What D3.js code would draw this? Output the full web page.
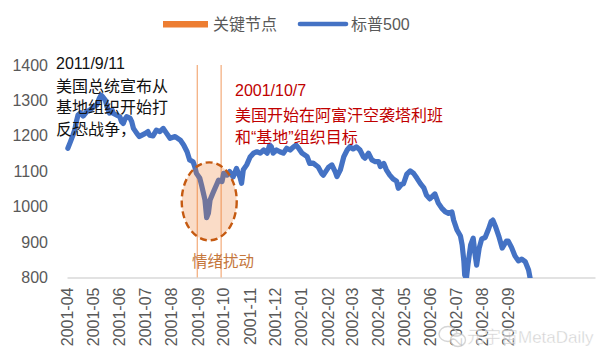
<!DOCTYPE html>
<html><head><meta charset="utf-8">
<script src="https://cdn.jsdelivr.net/npm/d3@7/dist/d3.min.js"></script>
<style>
html,body{margin:0;padding:0;background:#fff;}
svg{display:block;font-family:"Liberation Sans","Noto Sans CJK SC",sans-serif;}
</style></head>
<body>
<svg id="chart" width="600" height="364"></svg>
<script>
// ---- data ----
const dates = ["2001-04-02","2001-04-05","2001-04-08","2001-04-10","2001-04-12","2001-04-14","2001-04-17","2001-04-20","2001-04-24","2001-04-28",
"2001-05-02","2001-05-06","2001-05-09","2001-05-11","2001-05-13","2001-05-16","2001-05-18","2001-05-21","2001-05-24","2001-05-25","2001-05-29",
"2001-06-02","2001-06-04","2001-06-06","2001-06-08","2001-06-10","2001-06-14","2001-06-16","2001-06-18","2001-06-22","2001-06-25","2001-06-28",
"2001-07-02","2001-07-05","2001-07-07","2001-07-11","2001-07-15","2001-07-19","2001-07-23","2001-07-27","2001-07-31",
"2001-08-06","2001-08-12","2001-08-16","2001-08-20","2001-08-23","2001-08-27","2001-08-29","2001-08-31",
"2001-09-04","2001-09-06","2001-09-10","2001-09-12","2001-09-14","2001-09-16","2001-09-20","2001-09-24","2001-09-26","2001-09-30",
"2001-10-02","2001-10-06","2001-10-09","2001-10-13","2001-10-17","2001-10-21","2001-10-23","2001-10-25","2001-10-29",
"2001-11-02","2001-11-06","2001-11-10","2001-11-14","2001-11-18","2001-11-22","2001-11-25","2001-11-27","2001-11-29",
"2001-12-03","2001-12-07","2001-12-11","2001-12-15","2001-12-19","2001-12-23","2001-12-26","2001-12-29",
"2002-01-02","2002-01-08","2002-01-11","2002-01-15","2002-01-21","2002-01-25","2002-01-27",
"2002-02-02","2002-02-06","2002-02-10","2002-02-12","2002-02-16","2002-02-20","2002-02-24","2002-02-27",
"2002-03-03","2002-03-07","2002-03-11","2002-03-15","2002-03-17","2002-03-21","2002-03-25","2002-03-29",
"2002-04-02","2002-04-04","2002-04-08","2002-04-11","2002-04-15","2002-04-19","2002-04-23","2002-04-25","2002-04-29",
"2002-05-01","2002-05-05","2002-05-09","2002-05-13","2002-05-17","2002-05-21","2002-05-25","2002-05-28",
"2002-06-01","2002-06-07","2002-06-11","2002-06-15","2002-06-19","2002-06-23","2002-06-27","2002-06-29",
"2002-07-03","2002-07-07","2002-07-09","2002-07-11","2002-07-12","2002-07-14","2002-07-16","2002-07-19","2002-07-22","2002-07-24","2002-07-26","2002-07-29",
"2002-08-01","2002-08-05","2002-08-09","2002-08-12","2002-08-14","2002-08-17","2002-08-21","2002-08-25","2002-08-30",
"2002-09-01","2002-09-05","2002-09-09","2002-09-13","2002-09-17","2002-09-21","2002-09-25","2002-09-27"];
const sp500 = [1165,1183,1202,1216,1240,1259,1265,1256,1268,1273,
1282,1287,1306,1315,1310,1301,1282,1264,1273,1264,1259,
1254,1240,1235,1247,1254,1250,1240,1221,1207,1198,1202,
1207,1212,1202,1200,1216,1212,1221,1207,1193,
1198,1188,1174,1155,1132,1127,1113,1094,
1080,1061,1019,969,981,1019,1042,1064,1075,1071,
1094,1089,1099,1084,1108,1084,1066,1104,1118,
1140,1151,1155,1151,1160,1151,1174,1169,1151,
1160,1155,1151,1165,1160,1169,1174,1165,
1151,1141,1122,1123,1112,1094,1089,
1111,1118,1098,1085,1104,1141,1160,1169,
1163,1169,1160,1141,1137,1151,1132,1127,
1127,1113,1122,1104,1089,1078,1072,1052,1064,
1064,1092,1101,1094,1080,1065,1053,1033,
1022,1036,1010,996,986,981,985,962,
934,917,892,847,807,797,840,892,911,868,835,883,
909,913,937,958,962,945,917,883,903,
903,885,861,847,852,845,821,796];
const keyNodeDates = ["2001-09-01","2001-09-29"];
const keyNodeValues = [1400,1400];
const tickLabels = ["2001-04","2001-05","2001-06","2001-07","2001-08","2001-09","2001-10","2001-11","2001-12",
"2002-01","2002-02","2002-03","2002-04","2002-05","2002-06","2002-07","2002-08","2002-09"];
const yTicks = [800,900,1000,1100,1200,1300,1400];
const seriesNames = ["关键节点","标普500"];
const note1 = ["2011/9/11","美国总统宣布从","基地组织开始打","反恐战争，"];
const note2 = ["2001/10/7","美国开始在阿富汗空袭塔利班","和“基地”组织目标"];
const emotionLabel = "情绪扰动";
const watermark = "元宇宙MetaDaily";

// ---- chart ----
const parse = d3.timeParse("%Y-%m-%d");
const parseM = d3.timeParse("%Y-%m");
const svg = d3.select("#chart");
const pL = 67, pR = 595, pT = 65, pB = 277.5;

const x = d3.scaleTime().domain([parse("2001-04-01"), parse("2002-12-12")]).range([pL, pR]);
const y = d3.scaleLinear().domain([800, 1400]).range([pB, pT]);

const data = dates.map((d,i)=>({date:parse(d), value:sp500[i]}));

svg.append("defs").append("clipPath").attr("id","plot")
  .append("rect").attr("x",pL-10).attr("y",pT-10).attr("width",pR-pL+10).attr("height",pB-pT+10.5);

// y axis
const yAxis = svg.append("g").attr("transform",`translate(${pL},0)`)
  .call(d3.axisLeft(y).tickValues(yTicks).tickSize(0).tickPadding(19).tickFormat(d3.format("d")));
yAxis.select(".domain").remove();
yAxis.selectAll("text").attr("font-size",16).attr("fill","#595959")
  .attr("font-family",'"Liberation Sans",sans-serif');

// x axis
const xAxis = svg.append("g").attr("transform",`translate(0,${pB})`)
  .call(d3.axisBottom(x).tickValues(tickLabels.map(parseM)).tickSize(0).tickFormat(d3.timeFormat("%Y-%m")));
xAxis.select(".domain").attr("stroke","#d9d9d9").attr("stroke-width",1.3);
xAxis.selectAll("text").attr("font-size",16).attr("fill","#595959")
  .attr("font-family",'"Liberation Sans",sans-serif')
  .attr("transform","rotate(-90)").attr("text-anchor","end")
  .attr("x",-10).attr("y",0).attr("dy","0.36em");

// key node bars (thin)
svg.append("g").selectAll("line").data(keyNodeDates.map((d,i)=>({date:parse(d), value:keyNodeValues[i]})))
  .join("line")
  .attr("x1",d=>x(d.date)).attr("x2",d=>x(d.date))
  .attr("y1",y(800)).attr("y2",d=>y(d.value))
  .attr("stroke","#F4B183").attr("stroke-width",1.3);

// S&P line
svg.append("path").datum(data)
  .attr("clip-path","url(#plot)")
  .attr("fill","none").attr("stroke","#4472C4").attr("stroke-width",5.2)
  .attr("stroke-linejoin","round").attr("stroke-linecap","round")
  .attr("d", d3.line().x(d=>x(d.date)).y(d=>y(d.value)));

// emotion ellipse around the dip
const dipX = x(parse("2001-09-15")), dipY = y(1015);
svg.append("ellipse").attr("cx",dipX).attr("cy",dipY).attr("rx",27.5).attr("ry",39)
  .attr("fill","#ED7D31").attr("fill-opacity",0.27)
  .attr("stroke","#C55A11").attr("stroke-width",2.4).attr("stroke-dasharray","7,4");

svg.append("text").attr("x",192).attr("y",262).attr("dy","0.35em")
  .attr("font-size",15.5).attr("fill","#C5773C").text(emotionLabel);

// annotations
svg.append("g").selectAll("text").data(note1).join("text")
  .attr("x",56).attr("y",(d,i)=>[63.5,86,107.5,129][i]).attr("dy","0.35em")
  .attr("font-size",16).attr("fill","#111").text(d=>d);
svg.append("g").selectAll("text").data(note2).join("text")
  .attr("x",235).attr("y",(d,i)=>[90,115,137][i]).attr("dy","0.35em")
  .attr("font-size",16).attr("fill","#C00000").text(d=>d);

// legend
const lg = svg.append("g");
lg.append("rect").attr("x",163).attr("y",21).attr("width",45).attr("height",6.5).attr("fill","#ED7D31");
lg.append("text").attr("x",213).attr("y",24.5).attr("dy","0.35em").attr("font-size",16).attr("fill","#595959").text(seriesNames[0]);
lg.append("line").attr("x1",300).attr("x2",346).attr("y1",24).attr("y2",24)
  .attr("stroke","#4472C4").attr("stroke-width",4.6).attr("stroke-linecap","round");
lg.append("text").attr("x",351).attr("y",24.5).attr("dy","0.35em").attr("font-size",16).attr("fill","#595959").text(seriesNames[1]);

// watermark
const wm = svg.append("g").attr("opacity",0.75);
wm.append("ellipse").attr("cx",448).attr("cy",334).attr("rx",9).attr("ry",7.5).attr("fill","none").attr("stroke","#c8c8c8").attr("stroke-width",1.4);
wm.append("ellipse").attr("cx",458).attr("cy",340).attr("rx",7.5).attr("ry",6.5).attr("fill","#fff").attr("stroke","#c8c8c8").attr("stroke-width",1.4);
wm.append("text").attr("x",467).attr("y",337).attr("dy","0.35em").attr("font-size",17)
  .attr("fill","#c4c4c4").attr("stroke","#fff").attr("stroke-width",0.4).text(watermark);
</script>
</body></html>
